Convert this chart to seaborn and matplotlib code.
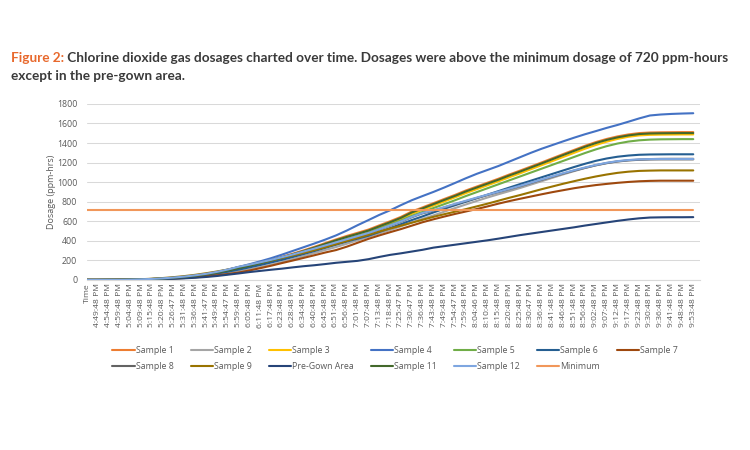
import pandas as pd
import matplotlib.pyplot as plt
import seaborn as sns

# x axis categories (first row of the sheet is the "Time" header)
times = ["Time", "4:49:48 PM", "4:54:48 PM", "4:59:48 PM", "5:04:48 PM", "5:09:48 PM",
         "5:15:48 PM", "5:20:48 PM", "5:26:47 PM", "5:31:48 PM", "5:36:48 PM", "5:41:47 PM",
         "5:49:48 PM", "5:54:47 PM", "5:59:48 PM", "6:05:48 PM", "6:11:48 PM", "6:17:48 PM",
         "6:23:48 PM", "6:28:48 PM", "6:34:48 PM", "6:40:48 PM", "6:45:48 PM", "6:51:48 PM",
         "6:56:48 PM", "7:01:48 PM", "7:07:48 PM", "7:13:48 PM", "7:18:48 PM", "7:25:47 PM",
         "7:30:47 PM", "7:36:48 PM", "7:43:48 PM", "7:49:48 PM", "7:54:47 PM", "7:59:48 PM",
         "8:04:46 PM", "8:10:48 PM", "8:15:48 PM", "8:20:48 PM", "8:25:48 PM", "8:30:47 PM",
         "8:36:48 PM", "8:41:48 PM", "8:46:48 PM", "8:51:48 PM", "8:56:48 PM", "9:02:48 PM",
         "9:07:48 PM", "9:12:48 PM", "9:17:48 PM", "9:23:48 PM", "9:30:48 PM", "9:36:48 PM",
         "9:41:48 PM", "9:48:48 PM", "9:53:48 PM"]

# dosage readings (ppm-hrs)
sample1 = [0, 0, 1, 1, 3, 5, 9, 14, 21, 31, 43, 57, 76, 98, 122, 148, 176, 205, 236, 268,
           302, 338, 376, 414, 450, 482, 515, 558, 600, 645, 700, 742, 785, 828, 870, 915,
           955, 995, 1035, 1078, 1118, 1160, 1202, 1245, 1288, 1330, 1372, 1410, 1442, 1468,
           1488, 1502, 1508, 1510, 1511, 1512, 1512]
sample2 = [0, 0, 0, 1, 2, 3, 6, 10, 15, 22, 31, 42, 55, 70, 88, 108, 130, 155, 182, 212,
           242, 274, 306, 336, 370, 405, 440, 475, 510, 548, 588, 625, 660, 698, 735, 772,
           808, 843, 876, 908, 940, 975, 1010, 1045, 1080, 1113, 1145, 1173, 1196, 1213,
           1225, 1231, 1236, 1239, 1240, 1240, 1240]
sample3 = [0, 0, 1, 1, 3, 5, 9, 13, 20, 29, 41, 55, 72, 93, 117, 141, 168, 196, 226, 257,
           290, 324, 360, 396, 432, 464, 496, 538, 580, 624, 676, 718, 760, 802, 845, 888,
           928, 968, 1008, 1050, 1090, 1132, 1174, 1216, 1258, 1300, 1342, 1380, 1414, 1442,
           1464, 1478, 1484, 1486, 1487, 1488, 1488]
sample4 = [0, 0, 1, 1, 2, 4, 7, 12, 20, 30, 44, 60, 80, 104, 132, 160, 190, 222, 258, 296,
           334, 372, 412, 455, 505, 560, 612, 665, 712, 765, 815, 858, 900, 945, 992, 1040,
           1085, 1125, 1165, 1210, 1255, 1300, 1342, 1380, 1418, 1455, 1490, 1522, 1555, 1585,
           1618, 1652, 1682, 1692, 1698, 1702, 1705]
sample5 = [0, 0, 1, 1, 3, 5, 9, 13, 20, 28, 40, 53, 70, 90, 112, 136, 162, 190, 220, 250,
           282, 315, 350, 385, 420, 452, 484, 525, 566, 608, 655, 695, 735, 775, 815, 858,
           898, 938, 978, 1018, 1058, 1098, 1138, 1178, 1218, 1258, 1298, 1335, 1368, 1395,
           1415, 1428, 1435, 1438, 1439, 1440, 1440]
sample6 = [0, 0, 0, 1, 2, 4, 7, 11, 17, 25, 36, 49, 65, 84, 105, 128, 152, 178, 205, 234,
           264, 295, 328, 360, 392, 422, 452, 490, 530, 570, 612, 650, 690, 728, 764, 800,
           836, 872, 908, 944, 980, 1015, 1050, 1085, 1120, 1155, 1188, 1218, 1242, 1260,
           1272, 1280, 1283, 1284, 1285, 1285, 1285]
sample7 = [0, 0, 0, 1, 1, 3, 5, 8, 13, 19, 27, 36, 47, 60, 75, 96, 120, 145, 172, 198,
           225, 252, 280, 305, 340, 380, 420, 455, 488, 520, 555, 590, 620, 648, 675, 700,
           725, 752, 780, 806, 830, 853, 876, 898, 918, 938, 955, 970, 982, 993,
           1002, 1009, 1013, 1015, 1015, 1015, 1015]
sample8 = [0, 0, 1, 1, 3, 6, 10, 15, 23, 33, 46, 61, 80, 104, 131, 153, 177, 202, 229, 257,
           287, 317, 349, 381, 413, 445, 477, 515, 555, 595, 641, 681, 708, 741, 774, 806,
           838, 868, 898, 928, 958, 991, 1024, 1056, 1088, 1118, 1146, 1172, 1194, 1211,
           1222, 1229, 1232, 1233, 1233, 1233, 1233]
sample9 = [0, 0, 1, 2, 4, 7, 12, 19, 28, 39, 52, 68, 86, 106, 128, 150, 174, 198, 224, 250,
           276, 304, 334, 366, 398, 430, 462, 495, 525, 555, 585, 615, 645, 672, 698, 724,
           752, 780, 810, 840, 868, 898, 928, 956, 984, 1010, 1035, 1058, 1078, 1095,
           1107, 1115, 1118, 1120, 1120, 1120, 1120]
pre_gown = [0, 0, 0, 0, 1, 2, 4, 7, 11, 16, 22, 30, 40, 53, 66, 80, 92, 104, 115, 128,
            140, 150, 162, 175, 185, 195, 212, 235, 256, 272, 290, 308, 330, 345, 360, 375,
            390, 405, 422, 440, 458, 474, 490, 506, 522, 538, 556, 572, 588, 604,
            618, 630, 638, 640, 641, 641, 642]
sample11 = [0, 0, 1, 1, 3, 5, 9, 14, 21, 30, 42, 56, 74, 96, 120, 145, 172, 200, 230, 262,
            295, 330, 368, 405, 440, 472, 505, 548, 590, 635, 690, 732, 775, 818, 860, 905,
            945, 985, 1025, 1068, 1108, 1150, 1192, 1235, 1278, 1320, 1362, 1400, 1432, 1458,
            1478, 1492, 1498, 1500, 1501, 1502, 1502]
sample12 = [0, 0, 1, 1, 3, 6, 10, 16, 24, 34, 47, 62, 82, 106, 134, 156, 180, 205, 232, 260,
            290, 320, 352, 384, 416, 448, 480, 518, 558, 598, 645, 685, 712, 745, 778, 810,
            842, 872, 902, 932, 962, 995, 1028, 1060, 1092, 1122, 1150, 1176, 1198, 1215,
            1226, 1233, 1236, 1237, 1237, 1237, 1237]
minimum = [720] * len(times)

series = {
    "Sample 1": sample1, "Sample 2": sample2, "Sample 3": sample3, "Sample 4": sample4,
    "Sample 5": sample5, "Sample 6": sample6, "Sample 7": sample7, "Sample 8": sample8,
    "Sample 9": sample9, "Pre-Gown Area": pre_gown, "Sample 11": sample11,
    "Sample 12": sample12, "Minimum": minimum,
}
colors = {
    "Sample 1": "#ED7D31", "Sample 2": "#A5A5A5", "Sample 3": "#FFC000", "Sample 4": "#4472C4",
    "Sample 5": "#70AD47", "Sample 6": "#255E91", "Sample 7": "#9E480E", "Sample 8": "#636363",
    "Sample 9": "#997300", "Pre-Gown Area": "#264478", "Sample 11": "#43682B",
    "Sample 12": "#7EA6E0", "Minimum": "#F1975A",
}

# long table for seaborn
rows = []
for name, vals in series.items():
    for i, v in enumerate(vals):
        rows.append({"pos": i, "Series": name, "Dosage": v})
df = pd.DataFrame(rows)

sns.set_style("white")
plt.rcParams["font.family"] = ["Open Sans", "DejaVu Sans"]

fig = plt.figure(figsize=(7.5, 4.5), dpi=100)
ax = fig.add_axes([0.116, 0.378, 0.817, 0.391])

sns.lineplot(data=df, x="pos", y="Dosage", hue="Series", hue_order=list(series.keys()),
             palette=colors, linewidth=1.5, ax=ax)

ax.set_xlim(0, len(times) - 0.4)
ax.set_ylim(0, 1800)
ax.set_yticks(range(0, 1801, 200))
ax.set_xticks(range(len(times)))
ax.set_xticklabels(times, rotation=90, fontsize=6.1, color="#595959")
ax.tick_params(axis="y", labelsize=6.3, labelcolor="#595959", length=0, pad=7)
ax.tick_params(axis="x", length=0, pad=2.5)
ax.yaxis.grid(True, color="#D9D9D9", linewidth=0.75)
ax.set_axisbelow(True)
for s in ["top", "right", "left"]:
    ax.spines[s].set_visible(False)
ax.spines["bottom"].set_color("#D9D9D9")
ax.set_xlabel("")
ax.set_ylabel("Dosage (ppm-hrs)", fontsize=6.5, color="#595959", labelpad=1)

# legend laid out row by row like the original
handles, labels = ax.get_legend_handles_labels()
ax.get_legend().remove()
lookup = dict(zip(labels, handles))
order = ["Sample 1", "Sample 8", "Sample 2", "Sample 9", "Sample 3", "Pre-Gown Area",
         "Sample 4", "Sample 11", "Sample 5", "Sample 12", "Sample 6", "Minimum", "Sample 7"]
fig.legend([lookup[k] for k in order], order, loc="upper center", ncol=7,
           bbox_to_anchor=(0.527, 0.248), frameon=False, fontsize=6.3,
           handlelength=2.6, handletextpad=0.1, columnspacing=1.9, labelspacing=0.75,
           labelcolor="#595959")

# caption
cap = dict(fontsize=9.85, fontweight="bold", family=["Lato", "DejaVu Sans"], va="bottom")
t1 = fig.text(0.015, 0.858, "Figure 2:", color="#E8692D", **cap)
ax.annotate(" Chlorine dioxide gas dosages charted over time. Dosages were above the "
            "minimum dosage of 720 ppm-hours", xy=(1, 0), xycoords=t1,
            color="#3A3A3A", annotation_clip=False, **cap)
fig.text(0.015, 0.818, "except in the pre-gown area.", color="#3A3A3A", **cap)

plt.savefig("out.png", dpi=100)
